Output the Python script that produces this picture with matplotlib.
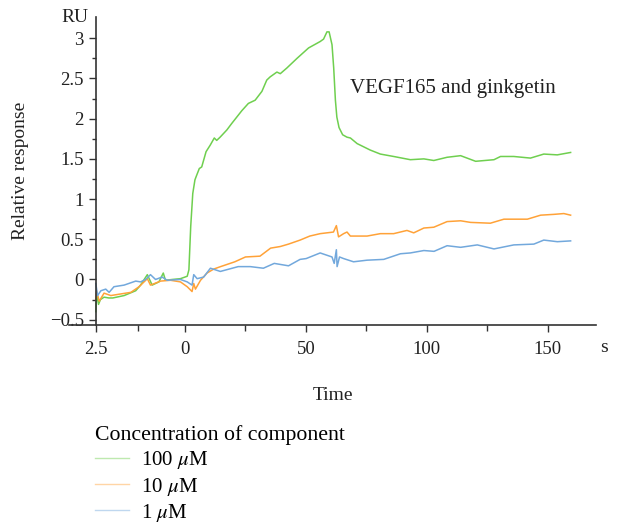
import matplotlib
matplotlib.use("Agg")
import matplotlib.pyplot as plt
from matplotlib.ticker import FixedLocator, FixedFormatter

plt.rcParams['font.family'] = ['Liberation Serif', 'DejaVu Serif']
plt.rcParams['mathtext.fontset'] = 'stix'

# ---- data (time in s, response in RU) ----
t_100 = [-36.9, -36.5, -35.8, -35.0, -33.5, -31.5, -29.9, -25.2, -20.4, -18.4, -15.6, -13.6, -10.8, -9.0,
         -8.1, -5.3, -1.9, 0.9, 1.6, 2.35, 3.2, 4.1, 4.6, 5.9, 6.9, 8.7, 10.4, 12.1, 13.1, 14.5, 17.3,
         19.3, 21.4, 23.5, 26.2, 29.0, 31.8, 33.8, 35.2, 38.0, 39.4, 42.1, 44.9, 46.3, 51.1, 55.9, 57.3,
         58.7, 59.6, 60.8, 61.5, 62.2, 62.8, 63.7, 65.2, 67.0, 68.4, 71.2, 76.6, 80.8, 86.3, 93.2, 98.8,
         102.9, 108.4, 114.0, 120.2, 127.8, 130.5, 136.0, 142.9, 148.4, 154.0, 159.5]
r_100 = [-0.40, -0.16, -0.31, -0.25, -0.22, -0.23, -0.23, -0.20, -0.14, -0.07, 0.06, -0.07, -0.03, 0.08,
         -0.01, 0.00, 0.01, 0.04, 0.12, 0.66, 1.07, 1.24, 1.28, 1.38, 1.40, 1.59, 1.67, 1.76, 1.73, 1.77, 1.86,
         1.94, 2.02, 2.10, 2.19, 2.23, 2.34, 2.48, 2.52, 2.58, 2.56, 2.63, 2.71, 2.75, 2.88, 2.96, 2.99,
         3.08, 3.08, 2.92, 2.63, 2.23, 2.02, 1.89, 1.80, 1.77, 1.76, 1.69, 1.61, 1.56, 1.53, 1.49, 1.50,
         1.48, 1.52, 1.54, 1.47, 1.49, 1.53, 1.53, 1.51, 1.56, 1.55, 1.58]

t_10 = [-36.9, -36.6, -35.5, -33.5, -30.7, -26.6, -22.4, -19.0, -15.6, -14.3, -10.1, -6.0, -1.9, 0.9,
        2.9, 3.6, 4.3, 6.4, 9.1, 11.9, 14.7, 20.6, 25.0, 31.0, 35.4, 39.4, 42.8, 47.6, 51.6, 55.9, 61.4,
        62.6, 63.5, 65.6, 67.0, 68.4, 75.3, 80.8, 86.3, 91.8, 94.6, 98.8, 102.9, 108.4, 114.0, 118.1,
        126.3, 131.9, 141.6, 147.1, 152.6, 156.7, 159.5]
r_10 = [-0.25, -0.14, -0.27, -0.17, -0.20, -0.18, -0.16, -0.09, 0.01, -0.07, -0.02, -0.01, -0.03, -0.09,
        -0.15, -0.05, -0.12, -0.01, 0.08, 0.13, 0.16, 0.22, 0.28, 0.29, 0.39, 0.41, 0.44, 0.49, 0.54, 0.57, 0.59,
        0.67, 0.53, 0.57, 0.59, 0.54, 0.54, 0.57, 0.57, 0.61, 0.58, 0.64, 0.65, 0.72, 0.73, 0.71,
        0.70, 0.75, 0.75, 0.80, 0.81, 0.82, 0.80]

t_1 = [-36.9, -36.2, -34.8, -32.8, -31.4, -29.4, -25.2, -20.4, -18.4, -16.3, -14.3, -12.2, -9.5, -7.4,
       -1.9, 0.9, 2.9, 3.6, 5.0, 7.7, 10.5, 14.6, 22.0, 27.0, 32.4, 36.9, 42.8, 47.6, 50.1, 55.9, 60.8,
       61.7, 62.6, 62.9, 63.9, 65.6, 69.7, 75.3, 82.2, 89.1, 93.2, 98.8, 103.0, 108.4, 114.0, 120.9,
       127.8, 136.0, 144.3, 148.4, 154.0, 159.5]
r_1 = [-0.05, -0.20, -0.14, -0.12, -0.16, -0.09, -0.07, -0.02, -0.03, 0.00, 0.06, 0.00, 0.03, -0.01,
       0.00, -0.03, -0.07, 0.06, 0.01, 0.03, 0.14, 0.10, 0.16, 0.16, 0.14, 0.20, 0.17, 0.25, 0.26, 0.33, 0.28,
       0.20, 0.37, 0.16, 0.28, 0.26, 0.22, 0.24, 0.25, 0.32, 0.33, 0.36, 0.35, 0.42, 0.40, 0.43,
       0.38, 0.43, 0.44, 0.49, 0.47, 0.48]

series_labels = ['100 $\\mu$M', '10 $\\mu$M', '1 $\\mu$M']
colors = ['#6fcf4f', '#ffa238', '#72a8dc']

x_tick_pos = [-37, 0, 50, 100, 150]
x_tick_lbl = ['2.5', '0', '50', '100', '150']
x_minor = [-19.5, 25, 75, 125]
y_ticks = [-0.5, 0, 0.5, 1, 1.5, 2, 2.5, 3]
y_tick_lbl = ['\u22120.5', '0', '0.5', '1', '1.5', '2', '2.5', '3']

fig = plt.figure(figsize=(6.19, 5.26), dpi=100)
ax = fig.add_axes([69/619, 1-325.3/526, (596-69)/619, (325.3-17.4)/526])

for t, r, c, lab in zip([t_100, t_10, t_1], [r_100, r_10, r_1], colors, series_labels):
    ax.plot(t, r, color=c, lw=1.1, label=lab)

ax.set_xlim(-48, 170)
ax.set_ylim(-0.57, 3.26)
for s in ['top', 'right']:
    ax.spines[s].set_visible(False)
ax.spines['left'].set_position(('data', -37))
for s in ['left', 'bottom']:
    ax.spines[s].set_color('#333333')
    ax.spines[s].set_linewidth(1.2)

ax.xaxis.set_major_locator(FixedLocator(x_tick_pos))
ax.xaxis.set_major_formatter(FixedFormatter(x_tick_lbl))
ax.xaxis.set_minor_locator(FixedLocator(x_minor))
ax.yaxis.set_major_locator(FixedLocator(y_ticks))
ax.yaxis.set_major_formatter(FixedFormatter(y_tick_lbl))
ax.yaxis.set_minor_locator(FixedLocator([v + 0.25 for v in y_ticks[:-1]]))
ax.tick_params(axis='both', which='major', direction='out', length=5, width=1, colors='#333333',
               labelsize=13.5, labelcolor='#222222')
ax.tick_params(axis='both', which='minor', direction='out', length=3, width=1, colors='#333333')
ax.tick_params(axis='x', which='major', pad=6)
ax.tick_params(axis='x', which='minor', length=4)

ax.set_ylabel('Relative response', fontsize=14, color='#222222', labelpad=15)
ax.set_xlabel('Time', fontsize=14, color='#222222', labelpad=21)
ax.text(68.3, 2.38, 'VEGF165 and ginkgetin', fontsize=15, color='#222222', va='center', ha='left')
fig.text(75/619, 1-17/526, 'RU', fontsize=14, color='#222222', ha='center', va='center')
fig.text(604/619, 1-348/526, 's', fontsize=14, color='#222222', ha='center', va='center')

leg = fig.legend(loc='upper left', bbox_to_anchor=(87/619, 1-417/526), frameon=False,
                 title='Concentration of component', alignment='left', fontsize=15,
                 title_fontsize=15.7, handlelength=1.6, handletextpad=0.6, labelspacing=0.2,
                 borderaxespad=0)
for h in leg.get_lines():
    h.set_alpha(0.45)
    h.set_linewidth(1.0)

fig.savefig('out.png', dpi=100)
